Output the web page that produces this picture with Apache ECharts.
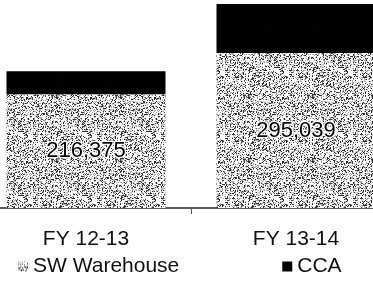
<!DOCTYPE html>
<html lang="en">
<head>
    <meta charset="UTF-8">
    <title>SW Warehouse vs CCA</title>
    <script src="https://cdn.jsdelivr.net/npm/echarts/dist/echarts.min.js"></script>
    <style>
        body { margin: 0; background: #fff; }
        #main { width: 373px; height: 282px; }
    </style>
</head>
<body>
    <div id="main"></div>
    <script>
        // data
        const years = ['FY 12-13', 'FY 13-14'];
        const swWarehouse = [216375, 295039];
        const cca = [43800, 93300];   // labels are black on black, values estimated

        // grainy grey texture like the scanned original
        function makeGrain(size) {
            var c = document.createElement('canvas');
            c.width = size; c.height = size;
            var ctx = c.getContext('2d');
            ctx.fillStyle = '#ffffff';
            ctx.fillRect(0, 0, size, size);
            var seed = 7;
            function rnd() { seed = (seed * 16807) % 2147483647; return seed / 2147483647; }
            for (var y = 0; y < size; y++) {
                for (var x = 0; x < size; x++) {
                    var r = rnd();
                    if (r < 0.2) { ctx.fillStyle = '#333'; ctx.fillRect(x, y, 1, 1); }
                    else if (r < 0.42) { ctx.fillStyle = '#aaa'; ctx.fillRect(x, y, 1, 1); }
                }
            }
            return c;
        }
        var grain = makeGrain(64);

        var myChart = echarts.init(document.getElementById('main'));
        var option = {
            animation: false,
            textStyle: { fontFamily: 'Liberation Sans' },
            grid: { left: -19, right: -28, top: 0, bottom: 74, outerBoundsMode: 'none' },
            legend: {
                left: 13,
                top: 251,
                icon: 'rect',
                itemWidth: 10,
                itemHeight: 10,
                itemGap: 103,
                textStyle: { fontSize: 21, color: '#111', fontFamily: 'Liberation Sans' },
                data: ['SW Warehouse', 'CCA']
            },
            xAxis: {
                type: 'category',
                data: years,
                axisLine: { lineStyle: { color: '#222', width: 1.5 } },
                axisTick: { show: true, length: 6, lineStyle: { color: '#555' } },
                axisLabel: { fontSize: 21, color: '#111', margin: 21 }
            },
            yAxis: {
                type: 'value',
                min: 0,
                max: 396000,
                show: false,
                splitLine: { show: false }
            },
            series: [
                {
                    name: 'SW Warehouse',
                    type: 'bar',
                    stack: 'total',
                    barWidth: 159,
                    data: swWarehouse,
                    itemStyle: { color: { image: grain, repeat: 'repeat' } },
                    label: {
                        show: true,
                        position: 'inside',
                        fontSize: 22,
                        color: '#000',
                        textBorderColor: '#fff',
                        textBorderWidth: 2.5,
                        formatter: function (p) { return p.value.toLocaleString('en-US'); }
                    }
                },
                {
                    name: 'CCA',
                    type: 'bar',
                    stack: 'total',
                    barWidth: 159,
                    data: cca,
                    itemStyle: { color: '#000' },
                    label: {
                        show: true,
                        position: 'inside',
                        fontSize: 22,
                        color: '#030303',
                        formatter: function (p) { return p.value.toLocaleString('en-US'); }
                    }
                }
            ]
        };
        myChart.setOption(option);
    </script>
</body>
</html>
